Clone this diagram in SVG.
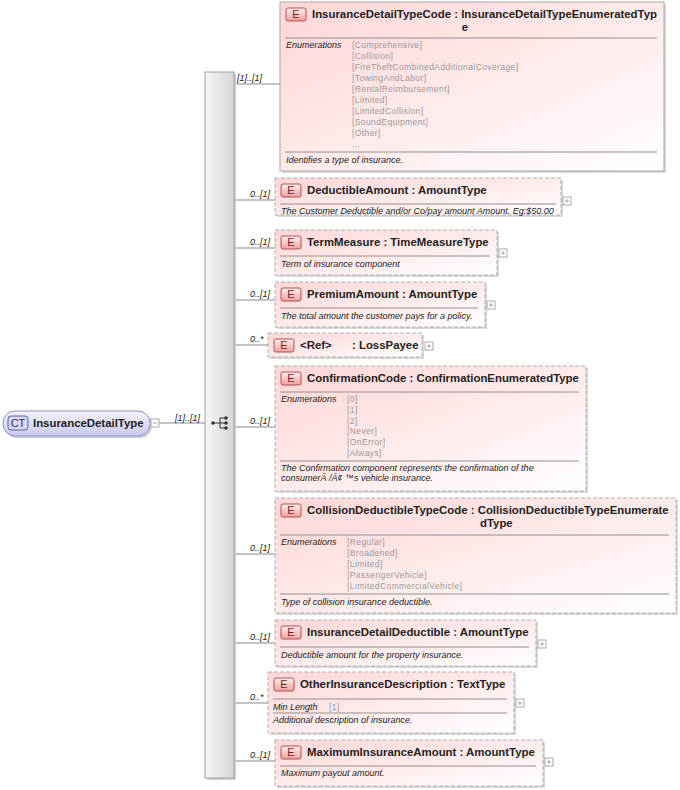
<svg xmlns="http://www.w3.org/2000/svg" width="680" height="790" viewBox="0 0 680 790">
<defs>
<linearGradient id="pk" x1="0" y1="0" x2="1" y2="1"><stop offset="0" stop-color="#ffd6d6"/><stop offset="1" stop-color="#ffffff"/></linearGradient>
<linearGradient id="badge" x1="0" y1="0" x2="0" y2="1"><stop offset="0" stop-color="#fff0f0"/><stop offset="1" stop-color="#f2a0a0"/></linearGradient>
<linearGradient id="ct" x1="0" y1="0" x2="0" y2="1"><stop offset="0" stop-color="#f4f4ff"/><stop offset="1" stop-color="#c8c8f0"/></linearGradient>
<linearGradient id="seq" x1="0" y1="0" x2="1" y2="0"><stop offset="0" stop-color="#f6f6f6"/><stop offset="1" stop-color="#d6d6d6"/></linearGradient>
<style>
text{font-family:"Liberation Sans",Arial,sans-serif;}
.box{fill:url(#pk);stroke:#b0b0b0;stroke-width:1;stroke-dasharray:4,2}
.solid{fill:url(#pk);stroke:#a8a8a8;stroke-width:1}
.sh{fill:#d8d8d8}
.bd{fill:url(#badge);stroke:#b05050;stroke-width:1}
.bt{font-size:11px;fill:#802020;text-anchor:middle}
.t{font-size:11.4px;font-weight:bold;fill:#222}
.sep{stroke:#909090;stroke-width:1}
.doc{font-size:9px;font-style:italic;fill:#222}
.en{font-size:8.5px;fill:#999;letter-spacing:0.4px}
.ln{stroke:#888;stroke-width:1;fill:none}
.pl{fill:#fff;stroke:#aaa;stroke-width:1}
.plt{stroke:#aaa;stroke-width:1}
.card{font-size:9px;font-style:italic;fill:#222}
</style>
</defs>

<g id="connectors">
<line class="ln" x1="159" y1="423" x2="205" y2="423"/>
<line class="ln" x1="234" y1="84" x2="280" y2="84"/>
<line class="ln" x1="234" y1="200" x2="275" y2="200"/>
<line class="ln" x1="234" y1="248" x2="275" y2="248"/>
<line class="ln" x1="234" y1="300" x2="275" y2="300"/>
<line class="ln" x1="234" y1="345" x2="268" y2="345"/>
<line class="ln" x1="234" y1="427" x2="275" y2="427"/>
<line class="ln" x1="234" y1="554" x2="275" y2="554"/>
<line class="ln" x1="234" y1="643" x2="275" y2="643"/>
<line class="ln" x1="234" y1="703" x2="268" y2="703"/>
<line class="ln" x1="234" y1="761" x2="275" y2="761"/>
<text class="card" x="175" y="421">[1]..[1]</text>
<text class="card" x="237" y="81">[1]..[1]</text>
<text class="card" x="250" y="197">0..[1]</text>
<text class="card" x="250" y="245">0..[1]</text>
<text class="card" x="250" y="297">0..[1]</text>
<text class="card" x="250" y="342">0..*</text>
<text class="card" x="250" y="424">0..[1]</text>
<text class="card" x="250" y="551">0..[1]</text>
<text class="card" x="250" y="640">0..[1]</text>
<text class="card" x="250" y="700">0..*</text>
<text class="card" x="250" y="758">0..[1]</text>
</g>

<g id="InsuranceDetailType">
<rect x="5" y="413" width="147" height="25" rx="12" fill="#d0d0d0"/>
<rect x="3" y="411" width="147" height="25" rx="12" fill="url(#ct)" stroke="#9090c0"/>
<rect x="8" y="416" width="20" height="14" rx="3" fill="#d8d8f8" stroke="#6060a0"/>
<text x="18" y="427" font-size="11" fill="#303070" text-anchor="middle">CT</text>
<text x="33" y="427" class="t" fill="#333">InsuranceDetailType</text>
<rect class="pl" x="151" y="419" width="8" height="8"/>
<line class="plt" x1="153" y1="423" x2="157" y2="423"/>
</g>

<g id="sequence">
<rect x="207" y="74" width="29" height="706" fill="#d0d0d0"/>
<rect x="205" y="72" width="29" height="706" fill="url(#seq)" stroke="#a0a0a0"/>
<line x1="212" y1="423" x2="220" y2="423" stroke="#333"/>
<line x1="220" y1="418" x2="220" y2="428" stroke="#333"/>
<line x1="220" y1="418" x2="226" y2="418" stroke="#333"/>
<line x1="220" y1="428" x2="226" y2="428" stroke="#333"/>
<line x1="220" y1="423" x2="226" y2="423" stroke="#333"/>
<circle cx="213" cy="423" r="1.8" fill="#333"/>
<circle cx="226" cy="418" r="1.8" fill="#333"/>
<circle cx="226" cy="423" r="1.8" fill="#333"/>
<circle cx="226" cy="428" r="1.8" fill="#333"/>
</g>

<g id="InsuranceDetailTypeCode">
<rect class="sh" x="282" y="4" width="384" height="169"/>
<rect class="solid" x="280" y="2" width="384" height="169"/>
<rect class="bd" x="286" y="8" width="20" height="13" rx="2"/><text class="bt" x="296" y="18">E</text>
<text class="t" x="312" y="18">InsuranceDetailTypeCode : InsuranceDetailTypeEnumeratedTyp</text>
<text class="t" x="465" y="31" text-anchor="middle">e</text>
<line class="sep" x1="285" y1="38" x2="657" y2="38"/>
<text class="doc" x="286" y="48">Enumerations</text>
<text class="en" x="352" y="48">[Comprehensive]</text>
<text class="en" x="352" y="59">[Collision]</text>
<text class="en" x="352" y="70">[FireTheftCombinedAdditionalCoverage]</text>
<text class="en" x="352" y="81">[TowingAndLabor]</text>
<text class="en" x="352" y="92">[RentalReimbursement]</text>
<text class="en" x="352" y="103">[Limited]</text>
<text class="en" x="352" y="114">[LimitedCollision]</text>
<text class="en" x="352" y="125">[SoundEquipment]</text>
<text class="en" x="352" y="136">[Other]</text>
<text class="en" x="352" y="147">...</text>
<line class="sep" x1="285" y1="152" x2="657" y2="152"/>
<text class="doc" x="286" y="163">Identifies a type of insurance.</text>
</g>

<g id="DeductibleAmount">
<rect class="sh" x="277" y="180" width="286" height="37"/>
<rect class="box" x="275" y="178" width="286" height="37"/>
<rect class="bd" x="281" y="184" width="20" height="13" rx="2"/><text class="bt" x="291" y="194">E</text>
<text class="t" x="307" y="194">DeductibleAmount : AmountType</text>
<line class="sep" x1="280" y1="204" x2="556" y2="204"/>
<text class="doc" x="281" y="214">The Customer Deductible and/or Co/pay amount Amount. Eg:$50.00</text>
<rect class="pl" x="563" y="197" width="8" height="8"/><line class="plt" x1="565" y1="201" x2="569" y2="201"/><line class="plt" x1="567" y1="199" x2="567" y2="203"/>
</g>

<g id="TermMeasure">
<rect class="sh" x="277" y="232" width="222" height="45"/>
<rect class="box" x="275" y="230" width="222" height="45"/>
<rect class="bd" x="281" y="236" width="20" height="13" rx="2"/><text class="bt" x="291" y="246">E</text>
<text class="t" x="307" y="246">TermMeasure : TimeMeasureType</text>
<line class="sep" x1="280" y1="256" x2="490" y2="256"/>
<text class="doc" x="281" y="267">Term of insurance component</text>
<rect class="pl" x="499" y="249" width="8" height="8"/><line class="plt" x1="501" y1="253" x2="505" y2="253"/><line class="plt" x1="503" y1="251" x2="503" y2="255"/>
</g>

<g id="PremiumAmount">
<rect class="sh" x="277" y="284" width="210" height="45"/>
<rect class="box" x="275" y="282" width="210" height="45"/>
<rect class="bd" x="281" y="288" width="20" height="13" rx="2"/><text class="bt" x="291" y="298">E</text>
<text class="t" x="307" y="298">PremiumAmount : AmountType</text>
<line class="sep" x1="280" y1="308" x2="478" y2="308"/>
<text class="doc" x="281" y="319">The total amount the customer pays for a policy.</text>
<rect class="pl" x="487" y="301" width="8" height="8"/><line class="plt" x1="489" y1="305" x2="493" y2="305"/><line class="plt" x1="491" y1="303" x2="491" y2="307"/>
</g>

<g id="LossPayee">
<rect class="sh" x="270" y="335" width="154" height="24"/>
<rect class="box" x="268" y="333" width="154" height="24"/>
<rect class="bd" x="274" y="339" width="20" height="13" rx="2"/><text class="bt" x="284" y="349">E</text>
<text class="t" x="300" y="349">&lt;Ref&gt;</text>
<text class="t" x="352" y="349">: LossPayee</text>
<rect class="pl" x="425" y="342" width="8" height="8"/><line class="plt" x1="427" y1="346" x2="431" y2="346"/><line class="plt" x1="429" y1="344" x2="429" y2="348"/>
</g>

<g id="ConfirmationCode">
<rect class="sh" x="277" y="368" width="311" height="125"/>
<rect class="box" x="275" y="366" width="311" height="125"/>
<rect class="bd" x="281" y="372" width="20" height="13" rx="2"/><text class="bt" x="291" y="382">E</text>
<text class="t" x="307" y="382">ConfirmationCode : ConfirmationEnumeratedType</text>
<line class="sep" x1="280" y1="392" x2="579" y2="392"/>
<text class="doc" x="281" y="402">Enumerations</text>
<text class="en" x="347" y="402">[0]</text>
<text class="en" x="347" y="413">[1]</text>
<text class="en" x="347" y="424">[2]</text>
<text class="en" x="347" y="434">[Never]</text>
<text class="en" x="347" y="445">[OnError]</text>
<text class="en" x="347" y="456">[Always]</text>
<line class="sep" x1="280" y1="461" x2="579" y2="461"/>
<text class="doc" x="281" y="471">The Confirmation component represents the confirmation of the</text>
<text class="doc" x="281" y="481">consumerÃ /Ã¢ ™s vehicle insurance.</text>
</g>

<g id="CollisionDeductibleTypeCode">
<rect class="sh" x="277" y="500" width="401" height="115"/>
<rect class="box" x="275" y="498" width="401" height="115"/>
<rect class="bd" x="281" y="504" width="20" height="13" rx="2"/><text class="bt" x="291" y="514">E</text>
<text class="t" x="307" y="514">CollisionDeductibleTypeCode : CollisionDeductibleTypeEnumerate</text>
<text class="t" x="480" y="527">dType</text>
<line class="sep" x1="280" y1="535" x2="669" y2="535"/>
<text class="doc" x="281" y="545">Enumerations</text>
<text class="en" x="347" y="545">[Regular]</text>
<text class="en" x="347" y="556">[Broadened]</text>
<text class="en" x="347" y="567">[Limited]</text>
<text class="en" x="347" y="578">[PassengerVehicle]</text>
<text class="en" x="347" y="589">[LimitedCommercialVehicle]</text>
<line class="sep" x1="280" y1="594" x2="669" y2="594"/>
<text class="doc" x="281" y="605">Type of collision insurance deductible.</text>
</g>

<g id="InsuranceDetailDeductible">
<rect class="sh" x="277" y="622" width="261" height="46"/>
<rect class="box" x="275" y="620" width="261" height="46"/>
<rect class="bd" x="281" y="626" width="20" height="13" rx="2"/><text class="bt" x="291" y="636">E</text>
<text class="t" x="307" y="636">InsuranceDetailDeductible : AmountType</text>
<line class="sep" x1="280" y1="647" x2="529" y2="647"/>
<text class="doc" x="281" y="658">Deductible amount for the property insurance.</text>
<rect class="pl" x="538" y="640" width="8" height="8"/><line class="plt" x1="540" y1="644" x2="544" y2="644"/><line class="plt" x1="542" y1="642" x2="542" y2="646"/>
</g>

<g id="OtherInsuranceDescription">
<rect class="sh" x="270" y="674" width="246" height="61"/>
<rect class="box" x="268" y="672" width="246" height="61"/>
<rect class="bd" x="274" y="678" width="20" height="13" rx="2"/><text class="bt" x="284" y="688">E</text>
<text class="t" x="300" y="688">OtherInsuranceDescription : TextType</text>
<line class="sep" x1="273" y1="699" x2="507" y2="699"/>
<text class="doc" x="273" y="710">Min Length</text>
<text class="en" x="329" y="710">[1]</text>
<line class="sep" x1="273" y1="713" x2="507" y2="713"/>
<text class="doc" x="273" y="723">Additional description of insurance.</text>
<rect class="pl" x="516" y="699" width="8" height="8"/><line class="plt" x1="518" y1="703" x2="522" y2="703"/><line class="plt" x1="520" y1="701" x2="520" y2="705"/>
</g>

<g id="MaximumInsuranceAmount">
<rect class="sh" x="277" y="742" width="268" height="46"/>
<rect class="box" x="275" y="740" width="268" height="46"/>
<rect class="bd" x="281" y="746" width="20" height="13" rx="2"/><text class="bt" x="291" y="756">E</text>
<text class="t" x="307" y="756">MaximumInsuranceAmount : AmountType</text>
<line class="sep" x1="280" y1="766" x2="536" y2="766"/>
<text class="doc" x="281" y="776">Maximum payout amount.</text>
<rect class="pl" x="545" y="758" width="8" height="8"/><line class="plt" x1="547" y1="762" x2="551" y2="762"/><line class="plt" x1="549" y1="760" x2="549" y2="764"/>
</g>
</svg>
